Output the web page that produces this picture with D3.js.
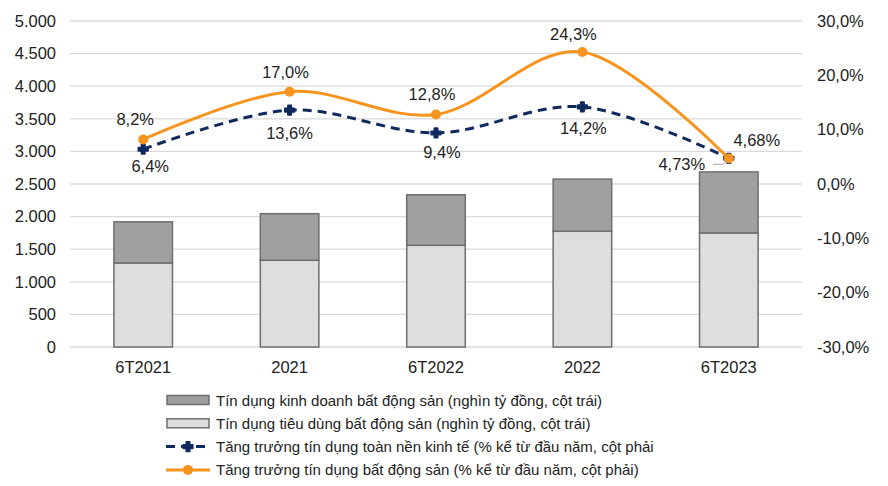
<!DOCTYPE html>
<html>
<head>
<meta charset="utf-8">
<script src="https://cdn.jsdelivr.net/npm/d3@7"></script>
<style>
    body { margin: 0; background: #fff; }
    svg text { font-family: "Liberation Sans", Arial, sans-serif; fill: #222; }
</style>
</head>
<body>
<svg id="chart"></svg>
<script>
// data
const categories = ["6T2021", "2021", "6T2022", "2022", "6T2023"];
const consumerCredit = [1290, 1330, 1560, 1775, 1750];   // tieu dung (light)
const businessCredit = [630, 715, 775, 800, 935];        // kinh doanh (dark)
const economyGrowth = [6.4, 13.6, 9.4, 14.2, 4.73];
const realEstateGrowth = [8.2, 17.0, 12.8, 24.3, 4.68];
const economyLabels = ["6,4%", "13,6%", "9,4%", "14,2%", "4,73%"];
const realEstateLabels = ["8,2%", "17,0%", "12,8%", "24,3%", "4,68%"];
const leftTicks = d3.range(0, 5001, 500);
const rightTicks = [-30, -20, -10, 0, 10, 20, 30];
const legendItems = [
    "Tín dụng kinh doanh bất động sản (nghìn tỷ đồng, cột trái)",
    "Tín dụng tiêu dùng bất động sản (nghìn tỷ đồng, cột trái)",
    "Tăng trưởng tín dụng toàn nền kinh tế (% kể từ đầu năm, cột phải",
    "Tăng trưởng tín dụng bất động sản (% kể từ đầu năm, cột phải)"
];

const config = {
    width: 888, height: 486,
    margin: { top: 21, right: 86, bottom: 139, left: 70 },
    orange: "#F7941D",
    navy: "#102A5E",
    dark: "#A0A0A0",
    light: "#DEDEDE",
    barStroke: "#6E6E6E",
    grid: "#D9D9D9",
    labelSize: 16.5
};

// label offsets relative to the marker
const orangeOffsets = [[-8, -20], [-4, -20], [-4, -20], [-9, -18], [28, -19]];
const navyOffsets = [[7, 17], [0, 23], [6, 19], [1, 21], [-47, 6]];

const svg = d3.select("#chart")
    .attr("width", config.width)
    .attr("height", config.height);

const innerW = config.width - config.margin.left - config.margin.right;
const innerH = config.height - config.margin.top - config.margin.bottom;

const chart = svg.append("g")
    .attr("transform", `translate(${config.margin.left},${config.margin.top})`);

const x = d3.scaleBand().domain(categories).range([0, innerW]).paddingInner(0.6).paddingOuter(0.3);
const yL = d3.scaleLinear().domain([0, 5000]).range([innerH, 0]);
const yR = d3.scaleLinear().domain([-30, 30]).range([innerH, 0]);
const cx = c => x(c) + x.bandwidth() / 2;

// gridlines
chart.append("g").selectAll("line")
    .data(leftTicks)
    .join("line")
    .attr("x1", 0).attr("x2", innerW)
    .attr("y1", d => yL(d)).attr("y2", d => yL(d))
    .attr("stroke", config.grid).attr("stroke-width", 1.3);

// axes
const fmtLeft = d => d3.format(",")(d).replace(/,/g, ".");
const yAxisL = d3.axisLeft(yL).tickValues(leftTicks).tickSize(0).tickPadding(14).tickFormat(fmtLeft);
const yAxisR = d3.axisRight(yR).tickValues(rightTicks).tickSize(0).tickPadding(15)
    .tickFormat(d => d.toFixed(1).replace(".", ",") + "%");
const xAxis = d3.axisBottom(x).tickSize(0).tickPadding(14);

const gL = chart.append("g").call(yAxisL);
const gR = chart.append("g").attr("transform", `translate(${innerW},0)`).call(yAxisR);
const gX = chart.append("g").attr("transform", `translate(0,${innerH})`).call(xAxis);
[gL, gR, gX].forEach(g => {
    g.select(".domain").remove();
    g.selectAll("text").attr("font-size", config.labelSize).attr("fill", "#222")
        .style("font-family", "'Liberation Sans', Arial, sans-serif");
});

// stacked bars
const stackData = categories.map((c, i) => ({ cat: c, consumer: consumerCredit[i], business: businessCredit[i] }));
const series = d3.stack().keys(["consumer", "business"])(stackData);
const barColors = { consumer: config.light, business: config.dark };

chart.append("g").selectAll("g")
    .data(series)
    .join("g")
    .attr("fill", d => barColors[d.key])
    .selectAll("rect")
    .data(d => d)
    .join("rect")
    .attr("x", d => x(d.data.cat))
    .attr("width", x.bandwidth())
    .attr("y", d => yL(d[1]))
    .attr("height", d => yL(d[0]) - yL(d[1]))
    .attr("stroke", config.barStroke)
    .attr("stroke-width", 1.5);

// lines
const curve = d3.curveCardinal.tension(0);
const lineNavy = d3.line().x((d, i) => cx(categories[i])).y(d => yR(d)).curve(curve);
const lineOrange = d3.line().x((d, i) => cx(categories[i])).y(d => yR(d)).curve(curve);

chart.append("path")
    .datum(economyGrowth)
    .attr("d", lineNavy)
    .attr("fill", "none")
    .attr("stroke", config.navy)
    .attr("stroke-width", 3)
    .attr("stroke-dasharray", "9,6");

chart.append("path")
    .datum(realEstateGrowth)
    .attr("d", lineOrange)
    .attr("fill", "none")
    .attr("stroke", config.orange)
    .attr("stroke-width", 3);

const navyMarker = d3.symbol().type(d3.symbolCross).size(48);

chart.append("g").selectAll("path")
    .data(economyGrowth)
    .join("path")
    .attr("transform", (d, i) => `translate(${cx(categories[i])},${yR(d)})`)
    .attr("d", navyMarker)
    .attr("fill", config.navy)
    .attr("stroke", config.navy)
    .attr("stroke-width", 2)
    .attr("stroke-linejoin", "round");

chart.append("g").selectAll("circle")
    .data(realEstateGrowth)
    .join("circle")
    .attr("cx", (d, i) => cx(categories[i]))
    .attr("cy", d => yR(d))
    .attr("r", 5)
    .attr("fill", config.orange);

// leader line for last navy label
const lastI = categories.length - 1;
chart.append("path")
    .attr("d", `M${cx(categories[lastI]) - 16},${yR(economyGrowth[lastI]) + 6}h10l5,-4`)
    .attr("fill", "none")
    .attr("stroke", "#A6A6A6")
    .attr("stroke-width", 1);

// data labels
chart.append("g").selectAll("text")
    .data(realEstateGrowth)
    .join("text")
    .attr("x", (d, i) => cx(categories[i]) + orangeOffsets[i][0])
    .attr("y", (d, i) => yR(d) + orangeOffsets[i][1])
    .attr("text-anchor", "middle")
    .attr("dominant-baseline", "central")
    .attr("font-size", config.labelSize)
    .text((d, i) => realEstateLabels[i]);

chart.append("g").selectAll("text")
    .data(economyGrowth)
    .join("text")
    .attr("x", (d, i) => cx(categories[i]) + navyOffsets[i][0])
    .attr("y", (d, i) => yR(d) + navyOffsets[i][1])
    .attr("text-anchor", "middle")
    .attr("dominant-baseline", "central")
    .attr("font-size", config.labelSize)
    .text((d, i) => economyLabels[i]);

// legend
const legend = svg.append("g").attr("transform", "translate(166,400)");
const rowH = 23.3;
legendItems.forEach((t, i) => {
    const row = legend.append("g").attr("transform", `translate(0,${i * rowH})`);
    if (i < 2) {
        row.append("rect")
            .attr("x", 1).attr("y", -4.5)
            .attr("width", 42).attr("height", 9)
            .attr("fill", i === 0 ? config.dark : config.light)
            .attr("stroke", config.barStroke).attr("stroke-width", 1.5);
    } else if (i === 2) {
        row.append("line")
            .attr("x1", 0).attr("x2", 44).attr("y1", 0).attr("y2", 0)
            .attr("stroke", config.navy).attr("stroke-width", 3)
            .attr("stroke-dasharray", "9,6");
        row.append("path")
            .attr("transform", "translate(22,0)")
            .attr("d", navyMarker)
            .attr("fill", config.navy)
            .attr("stroke", config.navy)
            .attr("stroke-width", 2)
            .attr("stroke-linejoin", "round");
    } else {
        row.append("line")
            .attr("x1", 0).attr("x2", 44).attr("y1", 0).attr("y2", 0)
            .attr("stroke", config.orange).attr("stroke-width", 3);
        row.append("circle").attr("cx", 22).attr("cy", 0).attr("r", 5).attr("fill", config.orange);
    }
    row.append("text")
        .attr("x", 50).attr("y", 0)
        .attr("dominant-baseline", "central")
        .attr("font-size", 15)
        .text(t);
});
</script>
</body>
</html>
